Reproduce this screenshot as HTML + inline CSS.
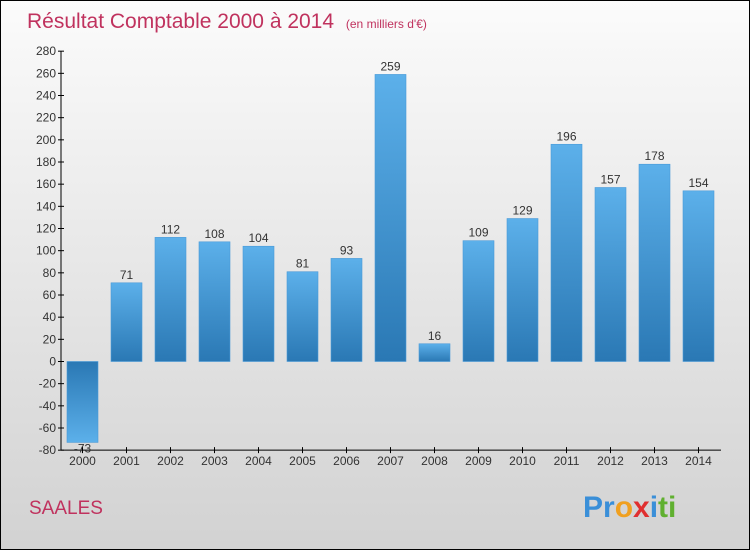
<!DOCTYPE html>
<html><head><meta charset="utf-8"><style>
body{margin:0}
#c{width:748px;height:548px;border:1px solid #000;background:linear-gradient(#fbfbfb,#d2d2d2);position:relative;font-family:"Liberation Sans",sans-serif}
</style></head><body>
<div id="c">
<svg width="748" height="548" id="s">
<defs>
<linearGradient id="gp" x1="0" y1="0" x2="0" y2="1"><stop offset="0" stop-color="#5cb0ea"/><stop offset="1" stop-color="#2a78b4"/></linearGradient>
<linearGradient id="gn" x1="0" y1="0" x2="0" y2="1"><stop offset="0" stop-color="#2a78b4"/><stop offset="1" stop-color="#5cb0ea"/></linearGradient>
</defs>
<text x="26" y="27" font-size="21" fill="#c0325e">Résultat Comptable 2000 à 2014 <tspan font-size="12" dx="6">(en milliers d'€)</tspan></text>
<text x="28" y="513" font-size="19" fill="#c0325e">SAALES</text>
<text x="582" y="516" font-size="30" font-weight="bold"><tspan fill="#3a8fd8">Pr</tspan><tspan fill="#f0a020">o</tspan><tspan fill="#e03030">x</tspan><tspan fill="#3a8fd8">i</tspan><tspan fill="#60b030">ti</tspan></text>
<g id="g"></g>
</svg>
</div>
<script>
const years=["2000","2001","2002","2003","2004","2005","2006","2007","2008","2009","2010","2011","2012","2013","2014"];
const values=[-73,71,112,108,104,81,93,259,16,109,129,196,157,178,154];
const ticks=[280,260,240,220,200,180,160,140,120,100,80,60,40,20,0,-20,-40,-60,-80];
const ns="http://www.w3.org/2000/svg",g=document.getElementById('g');
const y=v=>360.5-v*399/360, x=i=>81.5+i*44;
function mk(t,a,txt){const e=document.createElementNS(ns,t);for(const k in a)e.setAttribute(k,a[k]);if(txt!=null)e.textContent=txt;g.appendChild(e);return e;}
let ax=mk('line',{x1:60,y1:y(280),x2:60,y2:y(-80),stroke:'#000'});

let bx=mk('line',{x1:60,y1:y(-80),x2:720,y2:y(-80),stroke:'#000'});

ticks.forEach(t=>{
 let l=mk('line',{x1:57,x2:63,y1:y(t),y2:y(t),stroke:'#000'});
 
 let tx=mk('text',{x:55,y:y(t)+4,'font-size':12,'text-anchor':'end',fill:'#333'},t);
 
});
years.forEach((yr,i)=>{
 const v=values[i],top=Math.min(y(v),y(0)),h=Math.abs(y(v)-y(0));
 let r=mk('rect',{x:x(i)-15.5,y:top,width:31,height:h,fill:v<0?'url(#gn)':'url(#gp)',stroke:'#4a9ad8','stroke-width':0.6});
 
 let vl=mk('text',{x:x(i),y:v<0?y(v)+10:y(v)-4,'font-size':12,'text-anchor':'middle',fill:'#333'},v);
 
 let tk=mk('line',{x1:x(i),x2:x(i),y1:y(-80)-3,y2:y(-80)+3,stroke:'#000'});
 
 let xl=mk('text',{x:x(i),y:y(-80)+15,'font-size':12,'text-anchor':'middle',fill:'#333'},yr);
 
});
</script>
</body></html>
